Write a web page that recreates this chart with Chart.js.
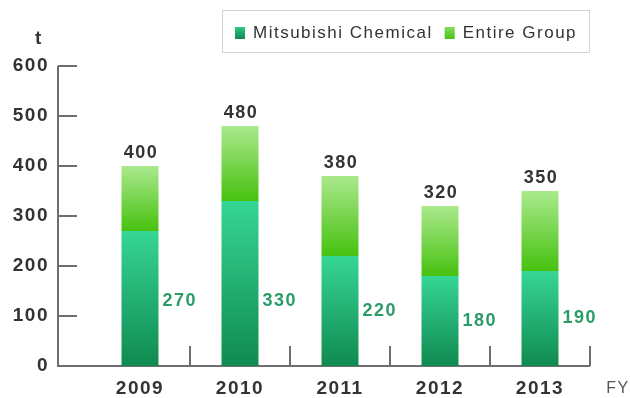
<!DOCTYPE html>
<html>
<head>
<meta charset="utf-8">
<script src="https://cdn.jsdelivr.net/npm/chart.js@4.4.1/dist/chart.umd.min.js"></script>
<style>
  html, body { margin: 0; padding: 0; background: #fff; }
  #wrap { width: 630px; height: 398px; position: relative; }
</style>
</head>
<body>
<div id="wrap"><canvas id="myChart" width="630" height="398"></canvas></div>
<script>
// fiscal years and tonnage
const years = ['2009', '2010', '2011', '2012', '2013'];
const mcValues = [270, 330, 220, 180, 190];       // Mitsubishi Chemical
const groupTotals = [400, 480, 380, 320, 350];    // Entire Group
const yTicks = [0, 100, 200, 300, 400, 500, 600];

const zeros = years.map(() => 0);
const groupExtra = groupTotals.map((t, i) => t - mcValues[i]);

const FONT = "'Liberation Sans', Arial, Helvetica, sans-serif";
const AXIS = '#6e6e6e';
const SPACING = '1.5px';

// vertical gradient for one bar segment, light on top
function segmentFill(lo, hi, topColor, bottomColor) {
  return function (c) {
    const chart = c.chart;
    if (!chart.chartArea || c.dataIndex === undefined) return bottomColor;
    const y = chart.scales.y;
    const g = chart.ctx.createLinearGradient(0, y.getPixelForValue(hi[c.dataIndex]), 0, y.getPixelForValue(lo[c.dataIndex]));
    g.addColorStop(0, topColor);
    g.addColorStop(1, bottomColor);
    return g;
  };
}

const legendItems = [
  { label: 'Mitsubishi Chemical', top: '#2cc784', bottom: '#118a50' },
  { label: 'Entire Group', top: '#86dc5c', bottom: '#4cc21a' }
];

const decor = {
  id: 'decor',
  beforeDraw(chart) {
    // slightly tracked-out lettering for all text
    chart.ctx.letterSpacing = SPACING;
  },
  beforeDatasetsDraw(chart) {
    const ctx = chart.ctx;
    const x = chart.scales.x, y = chart.scales.y;
    const x0 = chart.chartArea.left - 32;
    const base = y.getPixelForValue(0);
    ctx.save();
    ctx.strokeStyle = AXIS;
    ctx.lineWidth = 2;
    ctx.beginPath();
    ctx.moveTo(x0, y.getPixelForValue(600));
    ctx.lineTo(x0, base);
    const lastSep = x.getPixelForValue(years.length - 1) + 50;
    ctx.lineTo(lastSep, base);
    yTicks.forEach(v => {
      if (v === 0) return;
      const py = y.getPixelForValue(v);
      ctx.moveTo(x0, py);
      ctx.lineTo(x0 + 19, py);
    });
    years.forEach((yr, i) => {
      const px = x.getPixelForValue(i) + 50;
      ctx.moveTo(px, base);
      ctx.lineTo(px, base - 20);
    });
    ctx.stroke();

    ctx.fillStyle = '#333';
    ctx.font = 'bold 19px ' + FONT;
    ctx.textAlign = 'center';
    ctx.textBaseline = 'middle';
    ctx.fillText('t', 39, 39);
    ctx.font = '16px ' + FONT;
    ctx.fillStyle = '#555';
    ctx.fillText('FY', 618, 389);

    // legend box
    ctx.strokeStyle = '#d4d4d4';
    ctx.lineWidth = 1;
    ctx.strokeRect(222.5, 10.5, 367, 42);
    ctx.font = '17px ' + FONT;
    ctx.textAlign = 'left';
    let lx = 235;
    legendItems.forEach(it => {
      const g = ctx.createLinearGradient(0, 27, 0, 39);
      g.addColorStop(0, it.top);
      g.addColorStop(1, it.bottom);
      ctx.fillStyle = g;
      ctx.fillRect(lx, 27, 10, 12);
      ctx.fillStyle = '#333';
      ctx.fillText(it.label, lx + 18, 33);
      lx += 18 + ctx.measureText(it.label).width + 12;
    });
    ctx.restore();
  },
  afterDatasetsDraw(chart) {
    const ctx = chart.ctx;
    const y = chart.scales.y;
    const meta = chart.getDatasetMeta(0);
    ctx.save();
    ctx.font = 'bold 18px ' + FONT;
    ctx.textBaseline = 'middle';
    years.forEach((yr, i) => {
      const bar = meta.data[i];
      ctx.fillStyle = '#333';
      ctx.textAlign = 'center';
      ctx.fillText(String(groupTotals[i]), bar.x + 1, y.getPixelForValue(groupTotals[i]) - 13);
      ctx.fillStyle = '#2a9c68';
      ctx.textAlign = 'left';
      ctx.fillText(String(mcValues[i]), bar.x + bar.width / 2 + 4, y.getPixelForValue(Math.min(mcValues[i] / 2, 130)));
    });
    ctx.restore();
  }
};

function initialize() {
  const ctx = document.getElementById('myChart').getContext('2d');
  const myChart = new Chart(ctx, {
    type: 'bar',
    data: {
      labels: years,
      datasets: [{
        label: 'Mitsubishi Chemical',
        data: mcValues,
        backgroundColor: segmentFill(zeros, mcValues, '#36d695', '#108a50'),
        borderWidth: 0
      }, {
        label: 'Entire Group',
        data: groupExtra,
        backgroundColor: segmentFill(mcValues, groupTotals, '#aae98d', '#47c10f'),
        borderWidth: 0
      }]
    },
    options: {
      responsive: false,
      animation: false,
      layout: { padding: { top: 66, right: 40, left: 0, bottom: 0 } },
      datasets: { bar: { categoryPercentage: 1, barPercentage: 0.37 } },
      plugins: { legend: { display: false }, tooltip: { enabled: false } },
      scales: {
        x: {
          stacked: true,
          grid: { display: false, drawTicks: false },
          border: { display: false },
          afterFit: s => { s.height = 32; },
          ticks: { padding: 11, color: '#333', font: { family: FONT, size: 19, weight: 'bold' } }
        },
        y: {
          stacked: true,
          min: 0,
          max: 600,
          afterFit: s => { s.width = 90; },
          afterBuildTicks: s => { s.ticks = yTicks.map(v => ({ value: v })); },
          // the hidden tick length pushes the labels out to the left of the drawn axis
          grid: { display: false, drawTicks: true, tickLength: 41 },
          border: { display: false },
          ticks: { padding: 0, color: '#333', font: { family: FONT, size: 19, weight: 'bold' } }
        }
      }
    },
    plugins: [decor]
  });
}
initialize();
</script>
</body>
</html>
